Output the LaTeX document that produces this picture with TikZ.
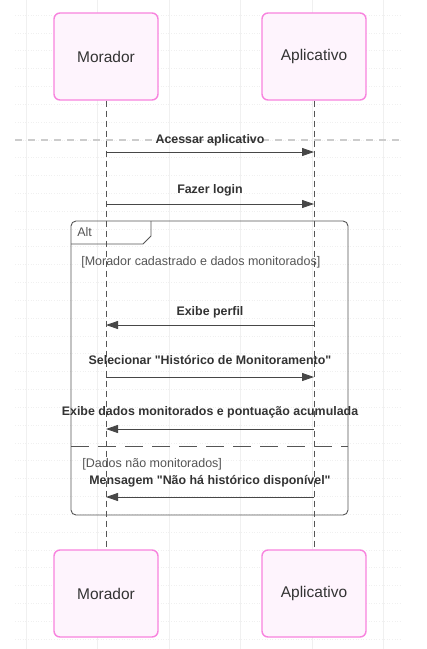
\documentclass[tikz,border=0pt]{standalone}
\usepackage{fontspec}
\setmainfont{Liberation Sans}
\usetikzlibrary{arrows.meta,positioning}

\definecolor{boxfill}{HTML}{FEF4FD}
\definecolor{boxline}{HTML}{F883DE}
\definecolor{ink}{HTML}{333333}
\definecolor{frameink}{HTML}{555555}

\begin{document}
\begin{tikzpicture}[x=1pt,y=-1pt,>={Triangle[length=12pt,width=8pt]},node distance=208pt,semithick]
	\tikzstyle{actor}=[draw=boxline,fill=boxfill,line width=1.4pt,rounded corners=6pt,minimum width=104pt,minimum height=87pt,text=ink,font=\fontsize{15.5}{18}\selectfont]
	\tikzstyle{life}=[draw=frameink,line width=0.9pt,dash pattern=on 6pt off 4pt]
	\tikzstyle{msg}=[->,draw=ink!90,line width=0.9pt]
	\tikzstyle{lbl}=[text=ink,font=\fontsize{12.4}{14}\selectfont\bfseries,inner sep=0pt]
	\tikzstyle{cond}=[text=frameink,font=\fontsize{12.5}{14}\selectfont,inner sep=0pt,anchor=west]

	\useasboundingbox (0,0) rectangle (427,649);
	\fill[white] (0,0) rectangle (427,649);

	% faint background grid
	\foreach \gy in {0,...,35}
		\draw[gray!12,line width=0.6pt,dotted] (15,15+17.83*\gy) -- (400,15+17.83*\gy);
	\foreach \gx in {0,...,5}
		\draw[gray!12,line width=0.6pt] (26+71.5*\gx,0) -- (26+71.5*\gx,649);

	\draw[gray!40,line width=1.2pt,dash pattern=on 7pt off 6pt] (15,140) -- (400,140);

	% participants
	\node[actor] (M) at (106,56.5) {Morador};
	\node[actor] (A) [right of = M] {Aplicativo};
	\node[actor] (Mb) [below of = M, node distance=537pt] {Morador};
	\node[actor] (Ab) [below of = A, node distance=537pt] {Aplicativo};

	\draw[life] (M) -- (Mb);
	\draw[life] (A) -- (Ab);

	% alt frame
	\draw[frameink,line width=0.9pt,rounded corners=5pt] (71,221) rectangle (348,515);
	\draw[frameink,line width=0.9pt] (71,244) -- (143,244) -- (151,236) -- (151,221);
	\node[cond] (alt) at (77,232) {Alt};
	\node[cond] (c1) at (81,262) {[Morador cadastrado e dados monitorados]};
	\draw[frameink,line width=0.9pt,dash pattern=on 18pt off 9pt] (71,446) -- (348,446);
	\node[cond] (c2) at (82,464) {[Dados não monitorados]};

	% messages
	\coordinate (r1) at (0,152);
	\coordinate (r2) at (0,204);
	\coordinate (r3) at (0,325);
	\coordinate (r4) at (0,377);
	\coordinate (r5) at (0,429);
	\coordinate (r6) at (0,497);

	\node[lbl] (t1) at (210,140) {Acessar aplicativo};
	\node[lbl] (t2) at (210,190) {Fazer login};
	\node[lbl] (t3) at (210,312) {Exibe perfil};
	\node[lbl] (t4) at (210,360) {Selecionar \textquotedbl Histórico de Monitoramento\textquotedbl};
	\node[lbl] (t5) at (210,412) {Exibe dados monitorados e pontuação acumulada};
	\node[lbl] (t6) at (210,481) {Mensagem \textquotedbl Não há histórico disponível\textquotedbl};

	\draw[msg] (M |- r1) -- (A |- r1);
	\draw[msg] (M |- r2) -- (A |- r2);
	\draw[msg] (A |- r3) -- (M |- r3);
	\draw[msg] (M |- r4) -- (A |- r4);
	\draw[msg] (A |- r5) -- (M |- r5);
	\draw[msg] (A |- r6) -- (M |- r6);
\end{tikzpicture}
\end{document}
